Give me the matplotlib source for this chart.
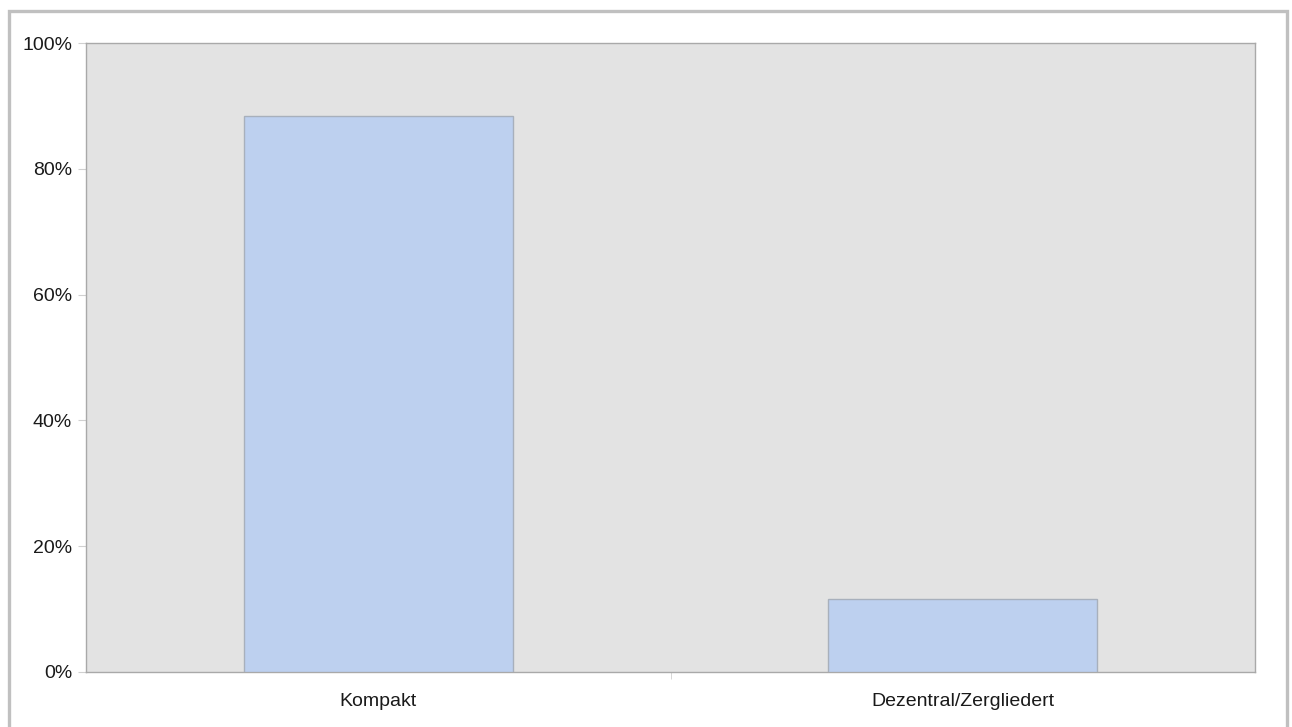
import matplotlib
matplotlib.use("Agg")
import matplotlib.pyplot as plt
from matplotlib.patches import Rectangle
from matplotlib.ticker import FuncFormatter, FixedLocator

categories = ["Kompakt", "Dezentral/Zergliedert"]
shares = [88.4, 11.6]
yticks = [0, 20, 40, 60, 80, 100]

plt.rcParams['font.family'] = ['Liberation Sans', 'DejaVu Sans']

W, H = 1292, 727
fig = plt.figure(figsize=(W / 100, H / 100), dpi=100)
fig.patch.set_facecolor("white")

# outer frame
fig.add_artist(Rectangle((9 / W, -0.01), (1287 - 9) / W, 1.01 - 11 / H,
                         transform=fig.transFigure, fill=False,
                         edgecolor="#c0c0c0", linewidth=2.4))

left, right, top, bottom = 86, 1255, 43, 672
ax = fig.add_axes([left / W, 1 - bottom / H, (right - left) / W, (bottom - top) / H])
ax.set_facecolor("#e3e3e3")

x = range(len(categories))
ax.bar(x, shares, width=0.46, color="#bdd0ef", edgecolor="#a8b0bc", linewidth=1.0, zorder=3)

ax.set_xlim(-0.5, len(categories) - 0.5)
ax.set_ylim(0, 100)
ax.set_yticks(yticks)
ax.yaxis.set_major_formatter(FuncFormatter(lambda v, p: f"{v:.0f}%"))
ax.set_xticks(list(x))
ax.set_xticklabels(categories)
ax.xaxis.set_minor_locator(FixedLocator([0.5]))

for s in ax.spines.values():
    s.set_color("#a9a9a9")
    s.set_linewidth(1.0)

ax.tick_params(axis="y", which="major", length=6, color="#d0d0d0", labelsize=14,
               labelcolor="#1a1a1a", pad=4)
ax.tick_params(axis="x", which="major", length=0, labelsize=14, labelcolor="#1a1a1a", pad=15)
ax.tick_params(axis="x", which="minor", length=5, color="#d0d0d0")

fig.savefig("out.png", dpi=100, facecolor="white")
